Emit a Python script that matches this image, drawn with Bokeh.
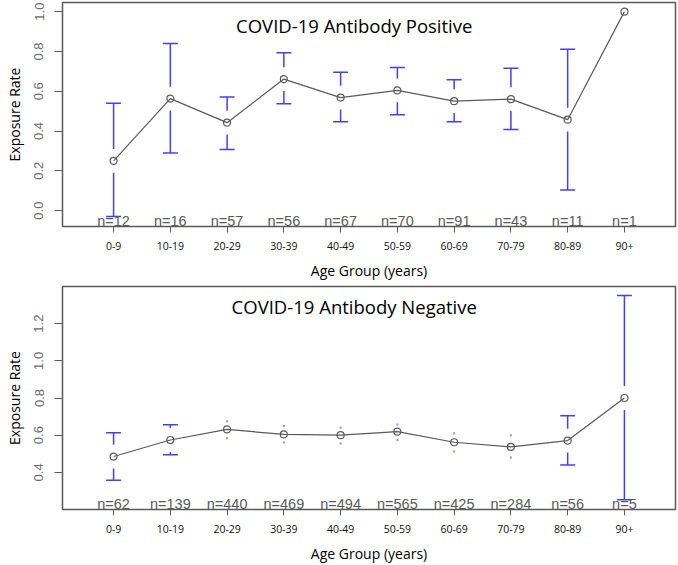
import math
from bokeh.plotting import figure
from bokeh.models import ColumnDataSource, FixedTicker, PrintfTickFormatter, Range1d
from bokeh.layouts import column
from bokeh.core.properties import value
from bokeh.embed import file_html
from bokeh.resources import INLINE

# ---------------- data ----------------
age_groups = ["0-9", "10-19", "20-29", "30-39", "40-49", "50-59", "60-69", "70-79", "80-89", "90+"]

pos_rate = [0.250, 0.563, 0.442, 0.661, 0.568, 0.604, 0.550, 0.560, 0.457, 1.000]
pos_lo = [-0.030, 0.289, 0.307, 0.537, 0.447, 0.482, 0.447, 0.407, 0.103, None]
pos_hi = [0.540, 0.840, 0.571, 0.794, 0.696, 0.719, 0.658, 0.716, 0.811, None]
pos_n = [12, 16, 57, 56, 67, 70, 91, 43, 11, 1]

neg_rate = [0.485, 0.574, 0.631, 0.604, 0.600, 0.619, 0.562, 0.537, 0.571, 0.800]
neg_lo = [0.357, 0.494, 0.583, 0.560, 0.555, 0.574, 0.512, 0.480, 0.439, 0.252]
neg_hi = [0.613, 0.656, 0.675, 0.649, 0.640, 0.658, 0.610, 0.600, 0.704, 1.352]
neg_n = [62, 139, 440, 469, 494, 565, 425, 284, 56, 5]

pos_ticks = [0.0, 0.2, 0.4, 0.6, 0.8, 1.0]
neg_ticks = [0.4, 0.6, 0.8, 1.0, 1.2]

BLUE = "#4040ff"
GREY = "#5a5a5a"
LABEL_FONT = "Open Sans"
GAP_PX = 12
BORDER_BOTTOM = 54
WIDTH = 678


def panel(title, rate, lo, hi, n, y_start, y_end, y_ticks, height, border_top,
          border_left, title_y):
    p = figure(width=WIDTH, height=height, output_backend="svg", toolbar_location=None,
               x_range=Range1d(0.1, 10.9), y_range=Range1d(y_start, y_end),
               min_border_left=border_left, min_border_right=3,
               min_border_top=border_top, min_border_bottom=BORDER_BOTTOM,
               background_fill_color="white", border_fill_color="white")
    p.grid.visible = False
    p.outline_line_color = GREY
    p.outline_line_width = 1.5

    frame_h = height - border_top - BORDER_BOTTOM
    ppu = frame_h / (y_end - y_start)
    gap = GAP_PX / ppu

    xs = list(range(1, len(age_groups) + 1))

    seg = dict(x0=[], y0=[], x1=[], y1=[])
    caps = dict(x=[], y=[])
    dots = dict(x=[], y=[])
    for x, r, l, h in zip(xs, rate, lo, hi):
        if l is None or h is None:
            continue
        for end, sign in ((h, 1), (l, -1)):
            if abs(end - r) > gap:
                seg["x0"].append(x)
                seg["y0"].append(r + sign * gap)
                seg["x1"].append(x)
                seg["y1"].append(end)
                caps["x"].append(x)
                caps["y"].append(end)
            else:
                dots["x"].append(x)
                dots["y"].append(end)

    p.segment("x0", "y0", "x1", "y1", source=ColumnDataSource(seg),
              line_color=BLUE, line_width=1.5)
    p.scatter("x", "y", source=ColumnDataSource(caps), marker="dash", size=15,
              line_color=BLUE, line_width=1.5)
    p.scatter("x", "y", source=ColumnDataSource(dots), marker="square", size=2,
              fill_color=BLUE, line_color=None, fill_alpha=0.6)

    src = ColumnDataSource(dict(x=xs, y=rate))
    p.line("x", "y", source=src, line_color=GREY, line_width=1.2)
    p.scatter("x", "y", source=src, marker="circle", size=7, fill_color=None,
              line_color=GREY, line_width=1.2)

    nsrc = ColumnDataSource(dict(x=xs, y=[y_start] * len(xs), t=[f"n={v}" for v in n]))
    p.text("x", "y", text="t", source=nsrc, text_align="center", text_baseline="bottom",
           y_offset=2, text_font=value("Liberation Sans"), text_font_size="14.5px",
           text_color=GREY)

    p.text(x=[5.24], y=[title_y], text=[title], text_align="center",
           text_baseline="alphabetic", text_font=value(LABEL_FONT),
           text_font_size="18.5px", text_color="black")

    # axes
    xa = p.xaxis[0]
    xa.ticker = FixedTicker(ticks=xs)
    xa.major_label_overrides = {i: g for i, g in zip(xs, age_groups)}
    xa.axis_line_color = None
    xa.major_tick_line_color = GREY
    xa.major_tick_out = 6
    xa.major_tick_in = 0
    xa.minor_tick_line_color = None
    xa.major_label_standoff = 9
    xa.major_label_text_font = LABEL_FONT
    xa.major_label_text_font_size = "10.5px"
    xa.major_label_text_color = "#111111"
    xa.axis_label = "Age Group (years)"
    xa.axis_label_text_font = LABEL_FONT
    xa.axis_label_text_font_size = "14px"
    xa.axis_label_text_font_style = "normal"
    xa.axis_label_text_color = "black"
    xa.axis_label_standoff = 8

    ya = p.yaxis[0]
    ya.ticker = FixedTicker(ticks=y_ticks)
    ya.formatter = PrintfTickFormatter(format="%.1f")
    ya.axis_line_color = None
    ya.major_tick_line_color = GREY
    ya.major_tick_out = 8
    ya.major_tick_in = 0
    ya.minor_tick_line_color = None
    ya.major_label_orientation = "vertical"
    ya.major_label_standoff = 11
    ya.major_label_text_font = "Liberation Sans"
    ya.major_label_text_font_size = "13px"
    ya.major_label_text_color = "#6b6b6b"
    ya.axis_label = "Exposure Rate"
    ya.axis_label_text_font = LABEL_FONT
    ya.axis_label_text_font_size = "14px"
    ya.axis_label_text_font_style = "normal"
    ya.axis_label_text_color = "black"
    ya.axis_label_standoff = 8
    return p


p1 = panel("COVID-19 Antibody Positive", pos_rate, pos_lo, pos_hi, pos_n,
           -0.08, 1.046, pos_ticks, 282, 2, 62, 0.931)
p2 = panel("COVID-19 Antibody Negative", neg_rate, neg_lo, neg_hi, neg_n,
           0.2, 1.4, neg_ticks, 283, 4, 60, 1.294)

layout = column(p1, p2, spacing=0)
open("out.html", "w").write(file_html(layout, INLINE))
